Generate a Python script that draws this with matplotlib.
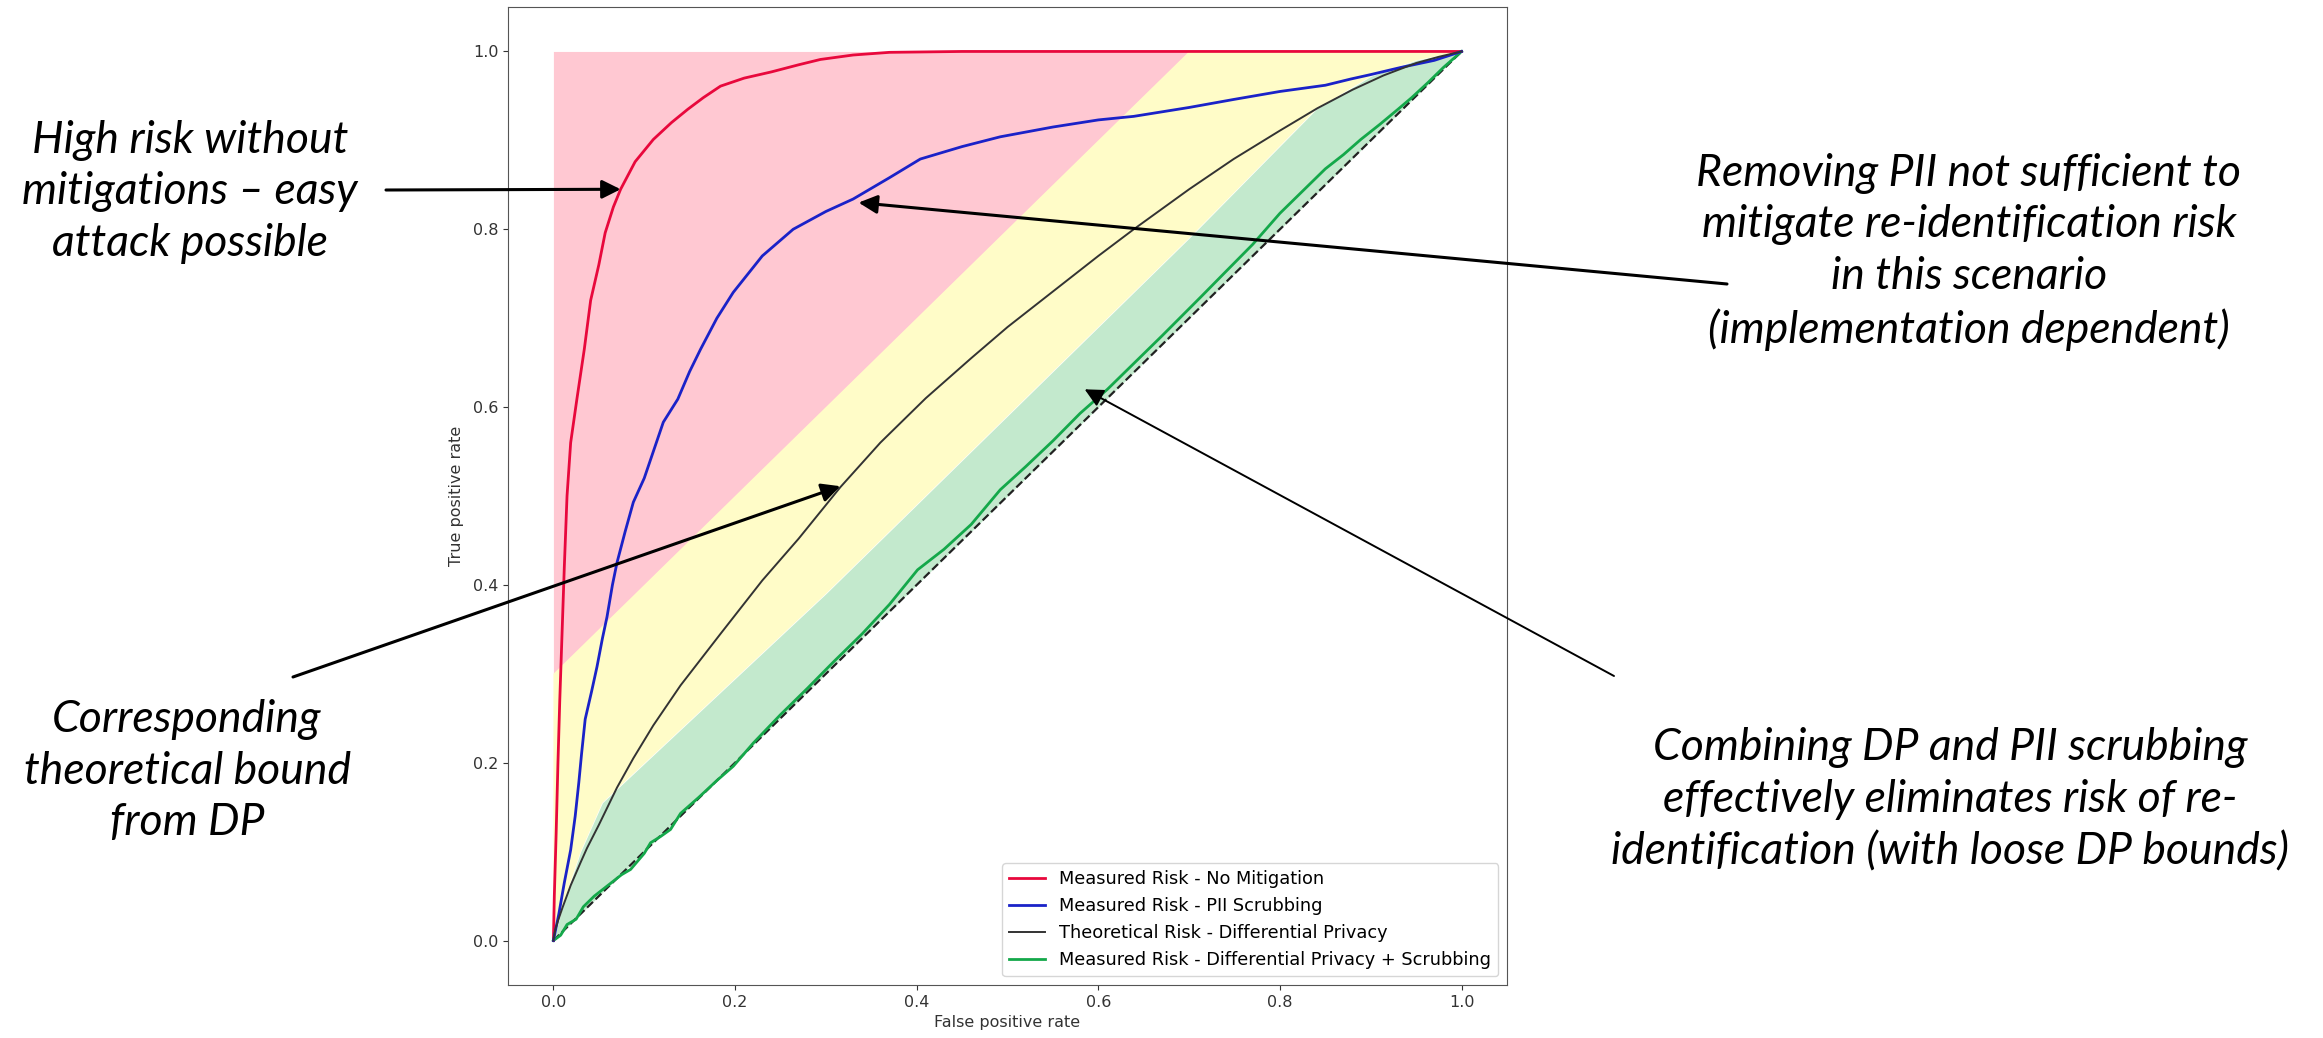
import matplotlib
matplotlib.use("Agg")
import matplotlib.pyplot as plt
import numpy as np

# ROC curves (false positive rate -> true positive rate)
red_fpr = [0, 0.001, 0.003, 0.005, 0.007, 0.009, 0.012, 0.015, 0.019, 0.026, 0.034, 0.041,
           0.05, 0.057, 0.066, 0.074, 0.09, 0.11, 0.13, 0.148, 0.165, 0.184, 0.21, 0.24,
           0.27, 0.294, 0.33, 0.37, 0.45, 0.6, 0.8, 1.0]
red_tpr = [0, 0.05, 0.12, 0.2, 0.27, 0.33, 0.42, 0.5, 0.56, 0.61, 0.665, 0.72,
           0.76, 0.796, 0.825, 0.845, 0.876, 0.901, 0.92, 0.935, 0.948, 0.961, 0.97, 0.977,
           0.985, 0.991, 0.996, 0.999, 1.0, 1.0, 1.0, 1.0]

blue_fpr = [0, 0.006, 0.012, 0.019, 0.024, 0.028, 0.031, 0.035, 0.042, 0.048, 0.054, 0.059,
            0.065, 0.070, 0.079, 0.088, 0.1, 0.121, 0.137, 0.15, 0.162, 0.18, 0.198, 0.23,
            0.264, 0.3, 0.33, 0.37, 0.404, 0.45, 0.492, 0.55, 0.6, 0.639, 0.7, 0.749, 0.8,
            0.85, 0.878, 0.9, 0.933, 0.97, 1.0]
blue_tpr = [0, 0.03, 0.065, 0.102, 0.14, 0.178, 0.21, 0.249, 0.28, 0.308, 0.34, 0.364,
            0.40, 0.425, 0.46, 0.493, 0.52, 0.583, 0.609, 0.64, 0.665, 0.7, 0.729, 0.77,
            0.80, 0.82, 0.834, 0.858, 0.879, 0.893, 0.904, 0.915, 0.923, 0.927, 0.937, 0.946, 0.955,
            0.962, 0.969, 0.974, 0.982, 0.99, 1.0]

dp_fpr = [0, 0.002, 0.005, 0.01, 0.019, 0.03, 0.037, 0.05, 0.07, 0.088, 0.11, 0.14, 0.184,
          0.23, 0.27, 0.316, 0.36, 0.41, 0.46, 0.5, 0.55, 0.6, 0.639, 0.7, 0.749, 0.8, 0.841,
          0.88, 0.914, 0.95, 0.975, 1.0]
dp_tpr = [0, 0.012, 0.022, 0.037, 0.062, 0.088, 0.104, 0.13, 0.172, 0.205, 0.242, 0.287, 0.345,
          0.405, 0.452, 0.51, 0.56, 0.61, 0.655, 0.69, 0.73, 0.77, 0.80, 0.845, 0.879, 0.911, 0.936,
          0.957, 0.973, 0.987, 0.994, 1.0]

green_fpr = [0, 0.008, 0.015, 0.025, 0.033, 0.045, 0.06, 0.075, 0.085, 0.1, 0.107, 0.118, 0.129,
             0.14, 0.16, 0.18, 0.198, 0.22, 0.25, 0.28, 0.308, 0.34, 0.37, 0.401, 0.43, 0.46,
             0.492, 0.52, 0.55, 0.58, 0.61, 0.64, 0.67, 0.713, 0.74, 0.77, 0.8, 0.823, 0.85,
             0.87, 0.889, 0.91, 0.93, 0.945, 0.963, 0.98, 1.0]
green_tpr = [0, 0.006, 0.018, 0.024, 0.038, 0.05, 0.062, 0.074, 0.080, 0.098, 0.110, 0.117, 0.125,
             0.143, 0.161, 0.18, 0.196, 0.222, 0.254, 0.284, 0.313, 0.345, 0.378, 0.417, 0.44, 0.468,
             0.507, 0.533, 0.562, 0.593, 0.62, 0.65, 0.68, 0.724, 0.752, 0.783, 0.818, 0.841, 0.868,
             0.884, 0.901, 0.918, 0.935, 0.948, 0.965, 0.982, 1.0]

# shaded risk bands
pink_fpr = [0, 0.7]
pink_low = [0.3, 1.0]
yellow_top_fpr = [0, 0.7, 1.0]
yellow_top_tpr = [0.3, 1.0, 1.0]
band_fpr = [0, 0.012, 0.03, 0.054, 0.3, 0.5, 0.7, 0.84, 0.9, 0.95, 1.0]
band_top = [0, 0.045, 0.1, 0.155, 0.39, 0.59, 0.79, 0.935, 0.972, 0.99, 1.0]

labels = ["Measured Risk - No Mitigation", "Measured Risk - PII Scrubbing",
          "Theoretical Risk - Differential Privacy",
          "Measured Risk - Differential Privacy + Scrubbing"]

notes = [
    "High risk without\nmitigations \u2013 easy\nattack possible",
    "Removing PII not sufficient to\nmitigate re-identification risk\nin this scenario\n(implementation dependent)",
    "Corresponding\ntheoretical bound\nfrom DP",
    "Combining DP and PII scrubbing\neffectively eliminates risk of re-\nidentification (with loose DP bounds)",
]

W, H = 2323, 1038
fig = plt.figure(figsize=(W / 100, H / 100), dpi=100)
ax = fig.add_axes([508 / W, 1 - 985 / H, 999 / W, 978 / H])

ax.fill_between(pink_fpr, pink_low, 1.0, color="#FFC8D2", lw=0, zorder=1)
poly_x = np.concatenate([yellow_top_fpr, band_fpr[::-1]])
poly_y = np.concatenate([yellow_top_tpr, band_top[::-1]])
ax.fill(poly_x, poly_y, color="#FFFCC8", lw=0, zorder=1)
ax.fill_between(band_fpr, band_fpr, band_top, color="#C3E9CD", lw=0, zorder=1)

ax.plot([0, 1], [0, 1], color="#222222", ls="--", lw=1.6, zorder=2)
ax.plot(red_fpr, red_tpr, color="#E8083C", lw=2.0, label=labels[0], zorder=4)
ax.plot(blue_fpr, blue_tpr, color="#1A22C8", lw=2.0, label=labels[1], zorder=4)
ax.plot(dp_fpr, dp_tpr, color="#333333", lw=1.4, label=labels[2], zorder=4)
ax.plot(green_fpr, green_tpr, color="#14A84A", lw=2.0, label=labels[3], zorder=3)

ax.set_xlim(-0.05, 1.05)
ax.set_ylim(-0.05, 1.05)
ax.set_xticks([0, 0.2, 0.4, 0.6, 0.8, 1.0])
ax.set_yticks([0, 0.2, 0.4, 0.6, 0.8, 1.0])
ax.tick_params(labelsize=11.5, colors="#333333")
ax.set_xlabel("False positive rate", fontsize=11.5, color="#333333")
ax.set_ylabel("True positive rate", fontsize=11.5, color="#333333", labelpad=6)
for s in ax.spines.values():
    s.set_color("#555555")

ax.legend(loc="lower right", fontsize=12.8, framealpha=0.8)

note_kw = dict(ha="center", va="center", fontsize=32, fontstyle="italic",
               family=["Lato", "DejaVu Sans"], linespacing=1.33)
fig.text(190 / W, 1 - 192 / H, notes[0], **note_kw)
fig.text(1969 / W, 1 - 252 / H, notes[1], **note_kw)
fig.text(187 / W, 1 - 771 / H, notes[2], **note_kw)
fig.text(1950 / W, 1 - 800 / H, notes[3], **note_kw)

arrow_kw = dict(arrowstyle="-|>", mutation_scale=28, color="black", lw=2.2,
                shrinkA=0, shrinkB=0)
thin_kw = dict(arrow_kw, lw=1.4)
ax.annotate("", xy=(0.074, 0.845), xytext=(386, H - 190),
            textcoords="figure pixels", arrowprops=arrow_kw, zorder=6)
ax.annotate("", xy=(0.336, 0.830), xytext=(1727, H - 284),
            textcoords="figure pixels", arrowprops=arrow_kw, zorder=6, annotation_clip=False)
ax.annotate("", xy=(0.316, 0.511), xytext=(293, H - 677),
            textcoords="figure pixels", arrowprops=arrow_kw, zorder=6)
ax.annotate("", xy=(0.585, 0.620), xytext=(1614, H - 676),
            textcoords="figure pixels", arrowprops=thin_kw, zorder=6)

fig.savefig("out.png", dpi=100)
